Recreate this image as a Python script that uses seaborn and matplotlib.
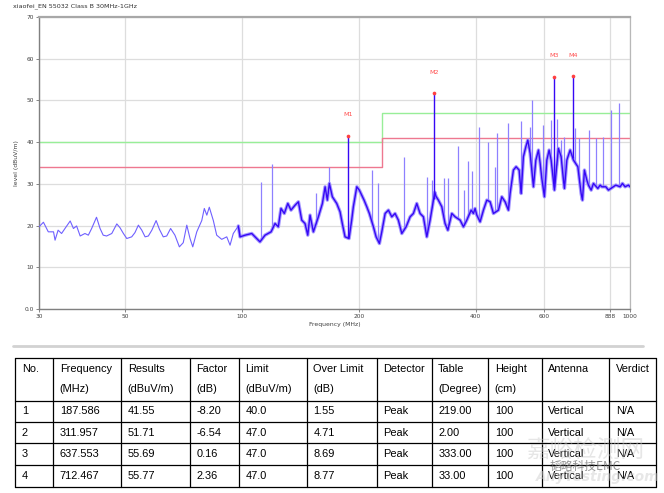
import matplotlib
matplotlib.use("Agg")
import matplotlib.pyplot as plt
import numpy as np
import pandas as pd
import seaborn as sns

trace_freq = [30.0, 30.8, 31.7, 32.7, 33.0, 33.6, 34.3, 35.0, 36.1, 36.8, 37.5, 38.3, 39.4, 40.2,
              41.0, 42.2, 43.1, 43.9, 44.8, 46.2, 47.6, 48.5, 49.5, 50.5, 52.0, 53.0, 54.1, 55.2,
              56.3, 57.4, 58.6, 60.1, 61.3, 62.7, 64.0, 65.5, 67.2, 69.0, 70.6, 72.1, 73.5, 74.7,
              76.5, 78.8, 80.0, 81.2, 82.4, 84.4, 86.1, 88.7, 91.4, 93.2, 95.0, 97.9, 98.9,
              101.9, 106.0, 111.3, 114.7, 118.9, 121.7, 124.1, 126.1, 128.6, 131.3, 133.8, 137.1,
              139.8, 142.6, 145.4, 147.8, 149.8, 152.8, 157.4, 161.2, 163.8, 166.0, 168.0, 171.0,
              175.5, 179.0, 181.4, 184.4, 188.8, 191.8, 193.7, 197.7, 200.7, 203.6, 206.4, 209.8,
              213.0, 218.2, 221.7, 226.1, 229.3, 233.9, 238.5, 243.3, 248.1, 253.0, 258.2, 264.9,
              271.3, 276.6, 282.2, 287.8, 293.5, 299.5, 305.4, 314.0, 316.4, 320.8, 327.4, 333.8,
              339.3, 347.4, 354.3, 365.0, 372.2, 379.7, 389.6, 394.9, 398.9, 403.0, 410.9, 419.1,
              427.6, 436.1, 444.7, 458.2, 467.4, 476.6, 486.1, 491.0, 500.7, 508.8, 518.0, 524.2,
              531.3, 539.0, 545.3, 552.9, 563.9, 572.0, 580.9, 586.7, 592.6, 601.8, 610.5, 618.8,
              626.3, 638.7, 644.0, 654.0, 664.6, 673.8, 677.8, 687.5, 701.1, 715.0, 733.8, 748.3,
              754.2, 763.1, 774.1, 781.4, 794.2, 805.0, 826.2, 837.7, 846.2, 866.4, 879.9, 906.4,
              919.2, 943.0, 956.1, 971.4, 990.6, 1000.0]
trace_level = [19.7, 20.8, 18.5, 18.5, 16.5, 18.9, 18.1, 19.3, 21.1, 19.3, 19.9, 17.5, 18.1, 17.7,
               19.3, 22.0, 19.3, 17.7, 17.5, 18.1, 20.4, 19.5, 18.1, 16.9, 17.3, 18.3, 20.1, 18.9,
               17.3, 17.5, 18.9, 21.2, 19.1, 17.3, 17.5, 19.3, 17.7, 14.9, 15.9, 20.1, 16.9, 14.9,
               18.5, 21.2, 24.1, 22.5, 24.4, 21.2, 17.7, 16.7, 17.3, 15.3, 18.1, 19.9, 17.3,
               17.7, 18.1, 16.1, 17.7, 18.5, 20.5, 19.7, 24.1, 22.9, 25.3, 23.7, 24.9,
               25.7, 21.3, 20.5, 17.7, 22.5, 18.5, 22.1, 25.3, 29.3, 26.1, 30.1, 26.9,
               25.3, 23.3, 20.5, 17.3, 16.9, 21.3, 24.5, 29.3, 28.5, 27.3, 26.1, 24.5,
               22.9, 19.7, 17.3, 15.7, 18.5, 22.9, 23.7, 22.1, 22.9, 21.3, 18.1, 19.7,
               22.1, 22.9, 25.3, 22.9, 22.1, 17.3, 21.3, 28.0, 27.0, 26.1, 24.5, 20.5,
               18.9, 22.9, 22.1, 21.3, 19.7, 21.3, 23.7, 22.9, 24.1, 22.5, 20.9, 23.7,
               26.1, 25.7, 22.9, 23.7, 26.9, 25.7, 23.7, 27.7, 33.3, 34.1, 33.3, 27.7,
               36.5, 38.9, 40.5, 37.3, 29.3, 35.7, 38.1, 35.0, 31.3, 26.9, 35.7, 38.1,
               35.7, 28.5, 32.1, 38.5, 36.5, 30.9, 28.9, 35.7, 38.1, 35.7, 34.1, 27.7,
               26.1, 33.3, 30.9, 29.7, 28.5, 30.1, 28.9, 29.7, 29.3, 29.3, 28.5, 29.3,
               29.7, 29.3, 30.1, 29.3, 29.7, 29.3]

# narrow emissions sticking out of the trace
spike_freq = [112.0, 119.8, 155.2, 168.0, 216.1, 224.7, 262.2, 300.5, 309.0, 331.0, 339.3, 360.0,
              374.4, 383.4, 391.5, 407.7, 431.7, 449.3, 455.4, 486.1, 524.2, 550.9, 560.5, 598.2,
              624.9, 647.9, 663.6, 676.6, 721.0, 740.8, 786.2, 814.9, 854.1, 894.0, 937.2]
spike_level = [30.5, 34.7, 27.9, 34.1, 33.3, 30.1, 36.5, 31.7, 31.0, 31.5, 31.3, 39.1,
               28.5, 35.5, 33.0, 43.6, 40.1, 34.1, 42.1, 44.5, 45.0, 43.6, 50.1, 44.1,
               45.2, 45.5, 40.5, 41.3, 43.5, 40.9, 43.0, 41.0, 41.3, 47.8, 49.4]

# limit (Class B) and limit - 6 dB
limit_freq = [30, 230, 230, 1000]
limit_level = [40, 40, 47, 47]
margin_level = [34, 34, 41, 41]

# final peak markers
marker_names = ["M1", "M2", "M3", "M4"]
marker_freq = [187.586, 311.957, 637.553, 712.467]
marker_level = [41.55, 51.71, 55.69, 55.77]

# result table
table_head1 = ["No.", "Frequency", "Results", "Factor", "Limit", "Over Limit", "Detector",
               "Table", "Height", "Antenna", "Verdict"]
table_head2 = ["", "(MHz)", "(dBuV/m)", "(dB)", "(dBuV/m)", "(dB)", "", "(Degree)", "(cm)", "", ""]
factor = ["-8.20", "-6.54", "0.16", "2.36"]
limits = ["40.0", "47.0", "47.0", "47.0"]
over_limit = ["1.55", "4.71", "8.69", "8.77"]
table_deg = ["219.00", "2.00", "333.00", "33.00"]

x_ticks = [30, 50, 100, 200, 400, 600, 888, 1000]
y_ticks = [0, 10, 20, 30, 40, 50, 60, 70]
y_ticklabels = ["0.0", "10", "20", "30", "40", "50", "60", "70"]

sns.set_theme(style="white")
plt.rcParams["font.family"] = ["DejaVu Sans"]

W, H = 664, 493
fig = plt.figure(figsize=(W / 100, H / 100), dpi=100)
ax = fig.add_axes([39 / W, 1 - 309 / H, 591 / W, 292 / H])

trace = pd.DataFrame({"freq": trace_freq, "level": trace_level})
low = trace[trace["freq"] < 100]
high = trace[trace["freq"] >= 97]
sns.lineplot(data=low, x="freq", y="level", ax=ax, color="#6f60ff", lw=0.8,
             estimator=None, sort=False, zorder=4)
sns.lineplot(data=high, x="freq", y="level", ax=ax, color="#a699ff", lw=2.5,
             estimator=None, sort=False, zorder=3)
sns.lineplot(data=high, x="freq", y="level", ax=ax, color="#3608f5", lw=1.0,
             estimator=None, sort=False, zorder=4)

logf = np.log10(trace_freq)
spike_base = np.interp(np.log10(spike_freq), logf, trace_level)
ax.vlines(spike_freq, spike_base, spike_level, color="#8e80ff", lw=0.9, zorder=3)
mark_base = np.interp(np.log10(marker_freq), logf, trace_level)
ax.vlines(marker_freq, mark_base, marker_level, color="#3608f5", lw=1.0, zorder=4)

sns.lineplot(x=limit_freq, y=limit_level, ax=ax, color="#98ee98", lw=1.0,
             estimator=None, sort=False, zorder=2)
sns.lineplot(x=limit_freq, y=margin_level, ax=ax, color="#ee7890", lw=1.0,
             estimator=None, sort=False, zorder=2)

sns.scatterplot(x=marker_freq, y=marker_level, ax=ax, color="#ff4040", s=7,
                linewidth=0, zorder=5)
for name, f, lv in zip(marker_names, marker_freq, marker_level):
    ax.text(f, lv + 5, name, color="#ff5050", fontsize=4.6, ha="center", va="center")

ax.set_xscale("log")
ax.set_xlim(30, 1000)
ax.set_ylim(0, 70)
ax.set_xticks(x_ticks)
ax.set_xticklabels([str(t) for t in x_ticks])
ax.xaxis.set_minor_locator(matplotlib.ticker.NullLocator())
ax.set_yticks(y_ticks)
ax.set_yticklabels(y_ticklabels)
ax.tick_params(axis="both", labelsize=4.2, length=2.5, width=0.6, color="#707070",
               labelcolor="#404040", pad=1, bottom=True, left=True)
ax.grid(True, color="#dddddd", lw=0.9)
ax.set_axisbelow(True)
for side in ["left", "bottom"]:
    ax.spines[side].set_color("#808080")
    ax.spines[side].set_linewidth(1.0)
ax.spines["top"].set_color("#a8a8a8")
ax.spines["top"].set_linewidth(1.6)
ax.spines["right"].set_color("#b8b8b8")
ax.spines["right"].set_linewidth(0.9)
ax.set_xlabel("Frequency (MHz)", fontsize=4.4, color="#404040", labelpad=2)
ax.set_ylabel("level (dBuV/m)", fontsize=4.4, color="#404040", labelpad=4)
fig.text(13 / W, 1 - 6 / H, "xiaofei_EN 55032 Class B 30MHz-1GHz", fontsize=4.6,
         color="#303030", ha="left", va="center")

# table drawn in pixel space below the chart
tax = fig.add_axes([0, 0, 1, 1], zorder=-1)
tax.set_xlim(0, W)
tax.set_ylim(H, 0)
tax.axis("off")
tax.plot([13, 643], [346, 346], color="#d2d2d2", lw=2.0)

col_edges = [15.3, 53.3, 121.3, 189.7, 238.7, 306.7, 376.7, 431.7, 488.3, 541.7, 609.3, 655.5]
row_edges = [358.3, 400.7, 422.0, 443.3, 465.0, 486.7]
for cx in col_edges:
    tax.plot([cx, cx], [row_edges[0], row_edges[-1]], color="black", lw=0.9)
for ry in row_edges:
    tax.plot([col_edges[0], col_edges[-1]], [ry, ry], color="black", lw=0.9)

tfont = dict(fontsize=7.9, family=["Liberation Sans", "DejaVu Sans"], color="black",
             ha="left", va="center")
for i, (h1, h2) in enumerate(zip(table_head1, table_head2)):
    tax.text(col_edges[i] + 6.5, 368.5, h1, **tfont)
    tax.text(col_edges[i] + 6.5, 389.5, h2, **tfont)

rows = []
for k in range(4):
    rows.append([str(k + 1), f"{marker_freq[k]:.3f}", f"{marker_level[k]:.2f}", factor[k],
                 limits[k], over_limit[k], "Peak", table_deg[k], "100", "Vertical", "N/A"])
for r, row in enumerate(rows):
    yc = (row_edges[r + 1] + row_edges[r + 2]) / 2
    for i, val in enumerate(row):
        tax.text(col_edges[i] + 6.5, yc, val, **tfont)

# faint site watermark over the table corner
tax.text(585, 451, "嘉峪检测网", fontsize=17, color="#c8c8c8", alpha=0.45,
         family=["Noto Sans CJK SC"], ha="center", va="center")
tax.text(585, 466, "韬略科技EMC", fontsize=8.5, color="#707070", alpha=0.75,
         family=["Noto Sans CJK SC", "DejaVu Sans"], ha="center", va="center")
tax.text(598, 477, "AnyTesting.com", fontsize=10, color="#d0d0d0", alpha=0.5,
         style="italic", weight="bold", ha="center", va="center")

fig.savefig("out.png", dpi=100)
